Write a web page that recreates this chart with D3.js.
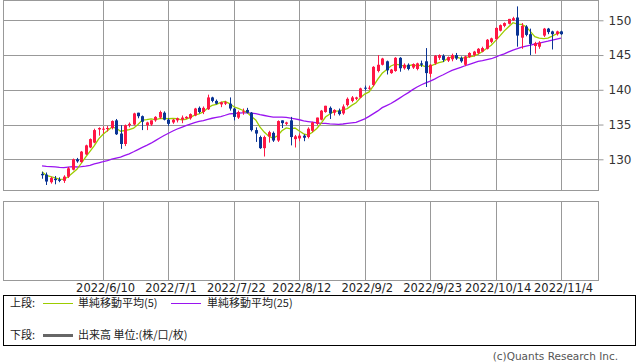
<!DOCTYPE html>
<html>
<head>
<meta charset="utf-8">
<script src="https://cdn.jsdelivr.net/npm/d3@7"></script>
<style>
  body { margin: 0; background: #fff; }
  svg text { font-family: "DejaVu Sans", sans-serif; }
</style>
</head>
<body>
<div id="chart"></div>
<script>
// daily candles, 2022/5/23 .. 2022/11/4 (weekdays)
const opens = [
  127.9,127.8,126.7,127.2,127.1,126.9,127.5,128.5,130.0,129.6,
  130.7,131.7,132.4,134.3,134.3,134.4,134.5,135.6,133.7,132.2,
  134.9,135.0,136.7,136.2,134.9,135.0,135.6,136.0,136.7,135.7,
  135.3,135.6,135.7,135.9,135.9,136.3,137.4,136.8,137.2,138.9,
  138.4,137.9,138.0,138.0,137.3,136.0,136.8,137.1,136.7,134.2,
  133.2,131.6,133.3,133.8,132.7,135.6,135.1,135.6,132.9,133.0,
  133.4,133.2,134.1,135.1,135.7,136.8,137.4,136.7,137.0,136.6,
  137.8,138.4,138.7,138.9,140.3,140.2,140.7,142.7,143.6,144.1,
  142.4,142.7,144.6,143.1,143.6,143.2,143.0,143.8,144.1,142.3,
  143.8,144.6,144.9,144.2,144.4,145.0,144.6,143.6,144.7,145.0,
  145.3,145.5,145.9,146.9,147.3,148.5,149.2,149.5,150.0,150.4,
  147.5,149.1,148.0,146.3,146.2,147.8,148.8,148.4,148.0,148.4
];
const highs = [
  128.2,128.1,127.5,127.6,127.4,127.7,128.9,130.1,130.2,131.2,
  132.1,133.0,134.4,134.6,134.7,134.8,135.6,135.8,134.9,135.0,
  135.3,136.7,136.7,136.3,135.4,135.6,136.2,137.0,136.9,135.9,
  135.8,136.0,136.3,136.2,136.6,137.4,137.6,137.6,139.3,139.0,
  138.6,138.3,138.4,138.9,137.4,137.0,137.3,137.4,136.8,134.6,
  133.4,133.4,134.1,134.0,135.6,135.6,135.4,136.1,133.5,133.7,
  133.6,134.6,135.4,136.0,137.1,137.7,137.6,137.2,137.3,137.9,
  138.9,139.1,139.0,140.3,140.6,140.6,143.4,145.0,144.6,144.2,
  143.0,144.7,144.7,143.8,143.8,143.8,143.9,144.2,146.0,143.7,
  145.0,145.1,145.1,144.8,145.2,145.3,144.8,144.9,145.4,145.6,
  146.0,146.2,147.3,147.5,149.0,149.4,149.7,150.2,150.5,152.0,
  149.6,149.3,148.8,146.9,147.0,148.9,148.9,148.5,148.5,148.5
];
const lows = [
  127.2,126.3,126.5,126.4,126.7,126.6,127.3,128.4,129.5,129.5,
  130.6,131.6,132.3,133.4,133.7,134.0,134.3,133.5,131.5,131.9,
  134.6,134.9,135.9,134.2,134.2,134.8,135.4,135.8,135.6,134.8,
  135.1,135.3,135.2,135.8,135.7,136.2,136.6,136.5,137.1,138.2,
  137.9,137.5,137.8,137.0,135.6,135.8,136.4,136.6,134.0,132.5,
  131.5,130.4,132.4,132.5,132.5,134.5,134.9,132.0,131.7,132.6,
  132.6,133.0,133.9,134.9,135.6,136.7,135.8,136.3,136.3,136.4,
  137.6,138.2,138.5,138.8,139.9,140.0,140.5,142.5,143.5,142.2,
  142.3,142.6,142.6,142.9,142.8,143.0,142.8,143.3,140.4,141.8,
  143.6,144.3,144.0,144.0,144.1,144.3,143.9,143.4,144.6,144.8,
  145.1,145.4,145.8,146.7,147.1,148.4,149.0,149.4,149.9,146.2,
  145.9,147.7,145.0,145.2,145.9,147.6,148.0,145.8,147.8,147.9
];
const closes = [
  127.7,126.8,127.3,127.0,126.9,127.5,128.7,130.0,129.7,131.1,
  132.0,132.9,134.2,134.5,134.4,134.5,135.5,133.6,132.2,134.9,
  135.1,136.6,136.2,135.4,135.3,135.6,136.1,136.8,135.7,135.1,
  135.7,135.9,136.0,136.1,136.5,137.3,136.8,137.4,138.9,138.4,
  138.0,138.2,138.2,137.3,136.1,136.8,136.9,136.7,134.2,133.7,
  131.6,133.2,133.9,132.7,135.5,135.2,135.3,133.2,133.3,133.4,
  133.1,134.4,135.3,136.0,137.0,137.7,136.6,137.1,136.5,137.6,
  138.7,138.9,138.9,140.2,140.2,140.3,143.3,143.6,144.5,142.8,
  142.9,144.6,143.1,143.6,143.0,143.7,143.8,143.6,142.4,143.6,
  144.9,145.0,144.3,144.7,145.0,144.5,144.1,144.8,145.3,145.5,
  145.9,146.0,147.2,147.4,148.9,149.3,149.6,150.2,150.3,147.8,
  149.2,147.9,146.6,146.7,146.8,148.8,148.3,148.0,148.4,148.0
];
// closes of the 24 sessions before 5/23, only used for the moving averages
const priorCloses = [
  128.9,127.9,128.4,128.5,128.1,127.3,128.3,130.8,129.9,130.2,
  130.1,129.1,130.2,130.6,130.3,130.4,129.9,128.3,129.2,129.1,
  129.4,128.2,127.8,127.9
];
const xTickLabels = ["2022/6/10","2022/7/1","2022/7/22","2022/8/12","2022/9/2","2022/9/23","2022/10/14","2022/11/4"];
const yTicks = [130, 135, 140, 145, 150];
const maPeriods = [5, 25];

const W = 638, H = 362;
const main = { left: 3.5, right: 598.5, top: 0.5, bottom: 190.5 };
const sub = { top: 201.5, bottom: 280.5 };

const fmt = d3.timeFormat('%Y/%-m/%-d');
const dates = d3.timeDay.range(new Date(2022, 4, 23), new Date(2022, 10, 5))
  .filter(d => d.getDay() !== 0 && d.getDay() !== 6)
  .map(fmt);

const x = d3.scalePoint().domain(dates).range([42, 561]);
const y = d3.scaleLinear().domain([125.58, 152.92]).range([190, 0]);

const svg = d3.select('#chart').append('svg')
  .attr('width', W).attr('height', H);

// moving averages
const allCloses = priorCloses.concat(closes);
function sma(n) {
  return closes.map((c, i) => {
    const end = i + priorCloses.length + 1;
    return d3.mean(allCloses.slice(end - n, end));
  });
}

// grid lines (main + sub panels)
const grid = svg.append('g').attr('class', 'grid');
xTickLabels.forEach(t => {
  const gx = Math.round(x(t)) + 0.5;
  [[main.top, main.bottom], [sub.top, sub.bottom]].forEach(r => {
    grid.append('line')
      .attr('x1', gx).attr('x2', gx).attr('y1', r[0]).attr('y2', r[1])
      .style('stroke', '#999').style('stroke-width', 1);
  });
});
yTicks.forEach(v => {
  const gy = Math.round(y(v)) + 0.5;
  grid.append('line')
    .attr('x1', main.left).attr('x2', main.right).attr('y1', gy).attr('y2', gy)
    .style('stroke', '#999').style('stroke-width', 1);
});

// panel frames
svg.append('rect')
  .attr('x', main.left).attr('y', main.top)
  .attr('width', main.right - main.left).attr('height', main.bottom - main.top)
  .style('fill', 'none').style('stroke', '#999');
svg.append('rect')
  .attr('x', main.left).attr('y', sub.top)
  .attr('width', main.right - main.left).attr('height', sub.bottom - sub.top)
  .style('fill', 'none').style('stroke', '#999');

// right y axis
const axisY = d3.axisRight(y).tickValues(yTicks).tickSize(5).tickPadding(5);
svg.append('g')
  .attr('class', 'axis y right')
  .attr('transform', `translate(${main.right},0)`)
  .call(axisY)
  .call(g => g.select('.domain').remove())
  .call(g => g.selectAll('line').style('stroke', '#999'))
  .call(g => g.selectAll('text')
    .style('font-size', '12px').style('fill', '#333')
    .style('font-family', '"DejaVu Sans", sans-serif'));

// x labels under the lower panel
const axisX = d3.axisBottom(x).tickValues(xTickLabels).tickSize(0).tickPadding(0);
svg.append('g')
  .attr('class', 'axis x bottom')
  .attr('transform', `translate(2,${sub.bottom + 3})`)
  .call(axisX)
  .call(g => g.select('.domain').remove())
  .call(g => g.selectAll('text')
    .style('font-size', '11.5px').style('fill', '#222')
    .style('font-family', '"DejaVu Sans", sans-serif'));

// moving average lines
const ma5 = sma(maPeriods[0]);
const ma25 = sma(maPeriods[1]);
const lineFn = d3.line()
  .x((d, i) => x(dates[i]))
  .y(d => y(d));
svg.append('path').datum(ma25)
  .attr('d', lineFn)
  .style('fill', 'none').style('stroke', '#9a14f0').style('stroke-width', 1.3);
svg.append('path').datum(ma5)
  .attr('d', lineFn)
  .style('fill', 'none').style('stroke', '#9ccc00').style('stroke-width', 1.3);

// candles
const candles = svg.append('g').attr('class', 'candles');
dates.forEach((d, i) => {
  const up = closes[i] >= opens[i];
  const col = up ? '#ff1744' : '#0a3494';
  const cx = Math.round(x(d));
  candles.append('line')
    .attr('x1', cx + 0.5).attr('x2', cx + 0.5)
    .attr('y1', y(highs[i])).attr('y2', y(lows[i]))
    .style('stroke', col).style('stroke-width', 1);
  const top = y(Math.max(opens[i], closes[i]));
  const bot = y(Math.min(opens[i], closes[i]));
  candles.append('rect')
    .attr('x', cx - 1).attr('y', top)
    .attr('width', 3).attr('height', Math.max(1, bot - top))
    .style('fill', col);
});

// legend box
const lg = svg.append('g').attr('class', 'legend');
lg.append('rect')
  .attr('x', 3.5).attr('y', 295.5).attr('width', 632).attr('height', 50)
  .style('fill', 'none').style('stroke', '#000');
const jp = '"Noto Sans CJK JP", sans-serif';
function legText(tx, ty, s) {
  lg.append('text').attr('x', tx).attr('y', ty).text(s)
    .style('font-family', jp).style('font-size', '11px').style('fill', '#222');
}
legText(10, 307, '上段:');
lg.append('line').attr('x1', 43).attr('x2', 73).attr('y1', 303.5).attr('y2', 303.5)
  .style('stroke', '#9ccc00');
legText(78, 307, `単純移動平均(${maPeriods[0]})`);
lg.append('line').attr('x1', 171).attr('x2', 201).attr('y1', 303.5).attr('y2', 303.5)
  .style('stroke', '#9a14f0');
legText(207, 307, `単純移動平均(${maPeriods[1]})`);
legText(10, 339, '下段:');
lg.append('line').attr('x1', 43).attr('x2', 73).attr('y1', 335.5).attr('y2', 335.5)
  .style('stroke', '#666').style('stroke-width', 3);
legText(78, 339, '出来高 単位:(株/口/枚)');

svg.append('text')
  .attr('x', 618).attr('y', 360).attr('text-anchor', 'end')
  .text('(c)Quants Research Inc.')
  .style('font-family', '"DejaVu Sans", sans-serif')
  .style('font-size', '10.5px').style('fill', '#555');
</script>
</body>
</html>
